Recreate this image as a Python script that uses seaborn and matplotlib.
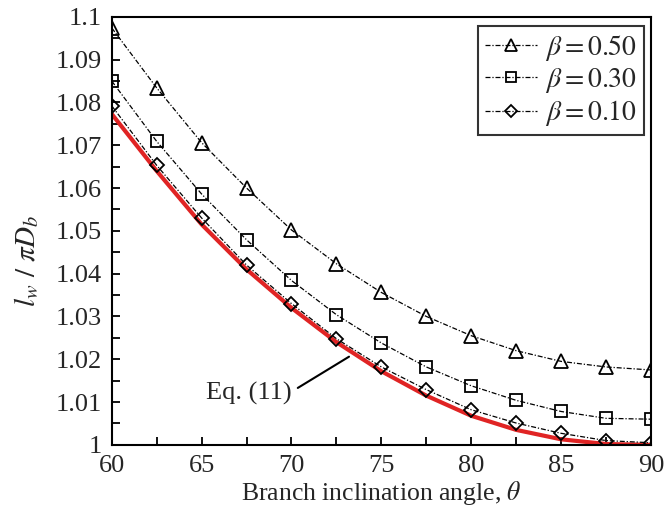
import numpy as np
import pandas as pd
import seaborn as sns
import matplotlib
matplotlib.use("Agg")
import matplotlib.pyplot as plt
from matplotlib.ticker import MultipleLocator, FixedLocator

theta = [60, 62.5, 65, 67.5, 70, 72.5, 75, 77.5, 80, 82.5, 85, 87.5, 90]
beta050 = [1.0974, 1.0834, 1.0706, 1.0600, 1.0502, 1.0423, 1.0356, 1.0300, 1.0255, 1.0220, 1.0195, 1.0182, 1.0175]
beta030 = [1.0850, 1.0709, 1.0586, 1.0479, 1.0384, 1.0304, 1.0238, 1.0182, 1.0138, 1.0104, 1.0078, 1.0062, 1.0060]
beta010 = [1.0792, 1.0653, 1.0530, 1.0420, 1.0330, 1.0248, 1.0182, 1.0129, 1.0082, 1.0051, 1.0027, 1.0010, 1.0005]
eq11 = [1.0773, 1.0640, 1.0515, 1.0410, 1.0320, 1.0240, 1.0172, 1.0115, 1.0068, 1.0035, 1.0013, 1.0002, 1.0000]
labels = [r"$\beta = 0.50$", r"$\beta = 0.30$", r"$\beta = 0.10$"]
xticklabels = ["60", "65", "70", "75", "80", "85", "90"]
yticklabels = ["1", "1.01", "1.02", "1.03", "1.04", "1.05", "1.06", "1.07", "1.08", "1.09", "1.1"]

sns.set_theme(style="white")
plt.rcParams["font.family"] = ["Liberation Serif", "DejaVu Serif"]
plt.rcParams["mathtext.fontset"] = "stix"

fig = plt.figure(figsize=(6.65, 5.24), dpi=100)
ax = fig.add_axes([0.168, 0.151, 0.811, 0.817])

df_eq = pd.DataFrame({"theta": theta, "val": eq11})
sns.lineplot(data=df_eq, x="theta", y="val", ax=ax, color="#e02424", lw=3.0, zorder=2)

markers = ["^", "s", "D"]
msizes = [10, 8.5, 7.5]
series = [beta050, beta030, beta010]
for vals, lab, mk, ms in zip(series, labels, markers, msizes):
    df = pd.DataFrame({"theta": theta, "val": vals})
    sns.lineplot(data=df, x="theta", y="val", ax=ax, color="black", lw=0.9,
                 linestyle=(0, (4, 1.5, 1, 1.5)), marker=mk, markersize=ms,
                 markerfacecolor="none", markeredgecolor="black",
                 markeredgewidth=1.3, label=lab, zorder=3)

ax.set_xlim(60, 90)
ax.set_ylim(1.0, 1.1)
ax.xaxis.set_major_locator(FixedLocator([60, 65, 70, 75, 80, 85, 90]))
ax.set_xticklabels(xticklabels)
ax.xaxis.set_minor_locator(MultipleLocator(2.5))
ax.yaxis.set_major_locator(FixedLocator([1 + 0.01 * i for i in range(11)]))
ax.set_yticklabels(yticklabels)
ax.yaxis.set_minor_locator(MultipleLocator(0.005))
ax.tick_params(which="both", direction="in", labelsize=19, color="black",
               left=True, bottom=True, width=1.3, pad=7)
ax.tick_params(which="major", length=6)
ax.tick_params(which="minor", length=6)
for s in ax.spines.values():
    s.set_color("black")
    s.set_linewidth(1.5)

ax.set_xlabel(r"Branch inclination angle, $\theta$", fontsize=18.5, labelpad=2)
ax.set_ylabel(r"$l_w\ /\ \pi D_b$", fontsize=21)
ax.yaxis.label.set_va("center")
ax.yaxis.label.set_ha("center")
ax.yaxis.set_label_coords(-0.158, 0.43)

ax.text(67.65, 1.0121, "Eq. (11)", fontsize=19, ha="center", va="center")
ax.annotate("", xy=(73.2, 1.0206), xytext=(70.35, 1.0133),
            arrowprops=dict(arrowstyle="-", color="black", lw=1.5,
                            shrinkA=0, shrinkB=0))

leg = ax.legend(loc="upper right", bbox_to_anchor=(0.987, 0.979), borderaxespad=0,
                frameon=True, fancybox=False, edgecolor="black", fontsize=20,
                handlelength=1.85, labelspacing=0.12, borderpad=0.25,
                handletextpad=0.3, markerscale=0.8)
leg.get_frame().set_linewidth(1.5)

fig.savefig("out.png", dpi=100)
